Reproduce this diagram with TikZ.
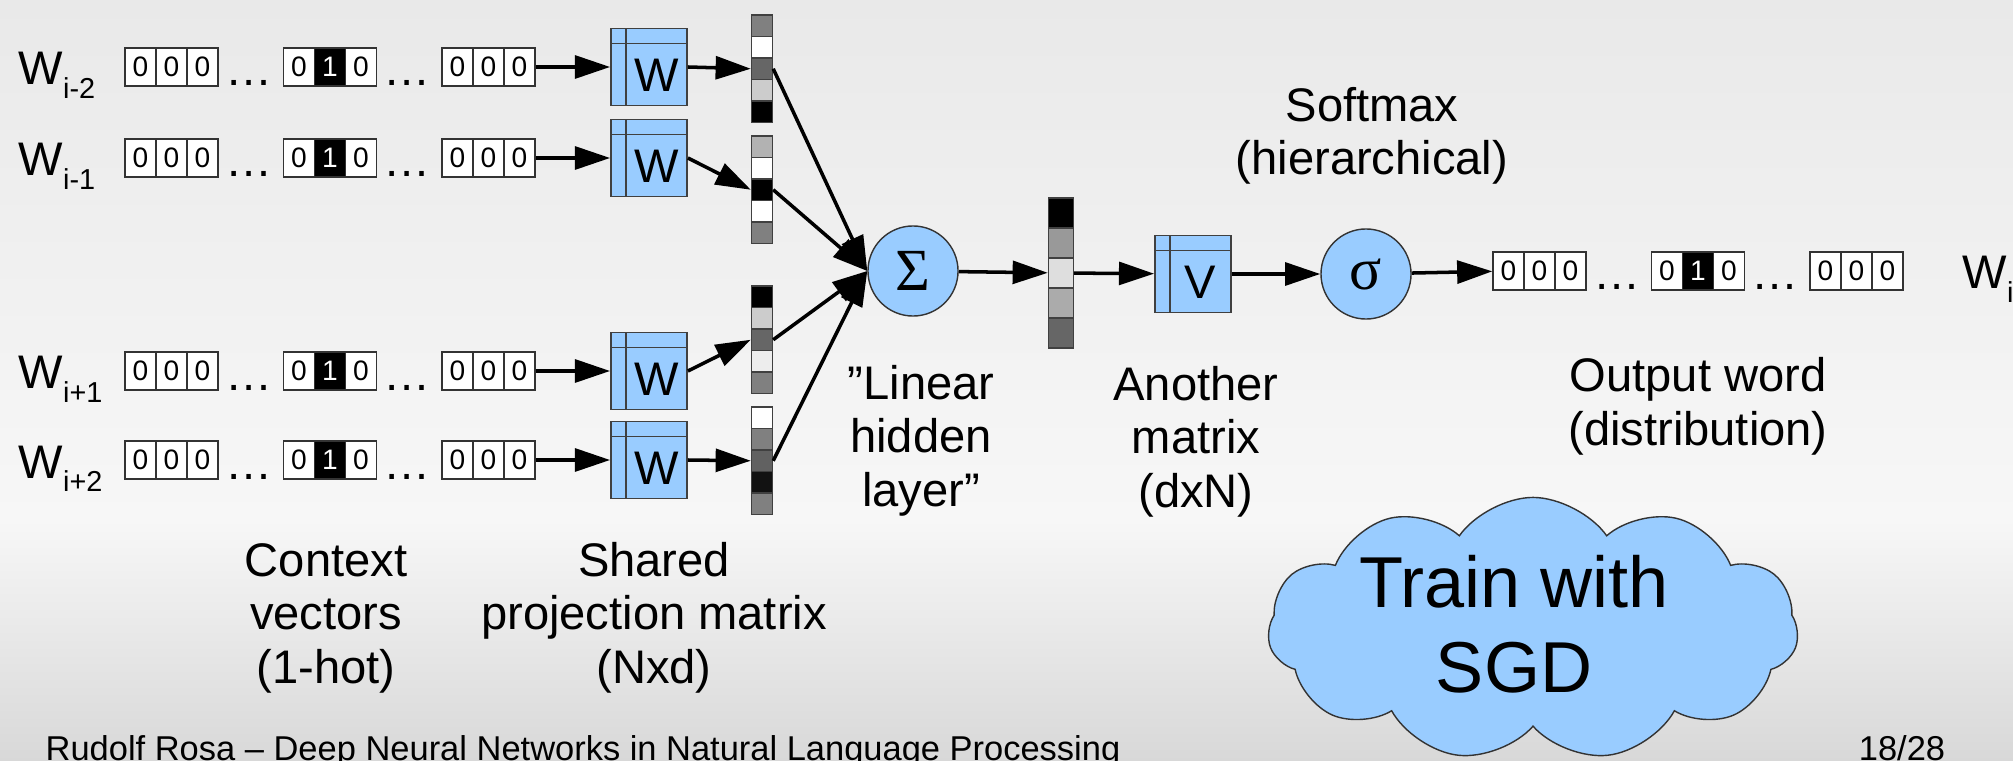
\documentclass[tikz,border=0pt]{standalone}
\usepackage{fontspec}
\setmainfont{Liberation Sans}
\newfontfamily\greekfont{Liberation Serif}
\usetikzlibrary{arrows.meta,shapes.symbols}
\definecolor{slideblue}{HTML}{99CCFF}
\definecolor{slidetop}{HTML}{E9E9E9}
\definecolor{slidemid}{HTML}{F7F7F7}
\definecolor{slidebot}{HTML}{D8D8D8}

\newcommand{\bigfont}{\fontsize{13.4}{15.2}\selectfont}
\newcommand{\cloudfont}{\fontsize{20.5}{23.9}\selectfont}

% one-hot vector: name, left x, centre y
\newcommand{\onehot}[3]{%
  \foreach \g in {0,1,2}{
    \foreach \j in {0,1,2}{
      \ifnum\g\j=11
        \node[cell,hot] (#1-\g\j) at (#2+158.5*\g+15.5+31*\j,#3) {1};
      \else
        \node[cell] (#1-\g\j) at (#2+158.5*\g+15.5+31*\j,#3) {0};
      \fi
    }
  }
  \node[dots] (#1-d1) at (#2+124,#3+19) {…};
  \node[dots] (#1-d2) at (#2+282,#3+19) {…};
}

% grey column: name, centre x, top y, cell height, width, fills
\newcommand{\greycol}[6]{%
  \foreach \tone [count=\i] in {#6}{
    \node[vcell,fill=\tone,minimum width=#5,minimum height=#4*0.01cm]
      (#1-\i) at (#2,#3+#4*\i-#4/2) {};
  }
}

\begin{document}
\begin{tikzpicture}[
    x=0.01cm,y=-0.01cm,
    flow/.style={-{Triangle[length=10pt,width=6.5pt]},line width=1pt},
    cell/.style={rectangle,draw=black!80,line width=.4pt,fill=white,inner sep=0pt,
      minimum width=.31cm,minimum height=.38cm,font=\fontsize{8}{8}\selectfont},
    hot/.style={fill=black,text=white},
    dots/.style={anchor=base,inner sep=0pt,font=\bigfont},
    vcell/.style={rectangle,draw=black!75,line width=.4pt,inner sep=0pt},
    matbox/.style={rectangle,draw=black!75,line width=.5pt,fill=slideblue,inner sep=0pt,
      minimum width=.76cm,minimum height=.77cm,text height=.49cm,text depth=0pt,
      font=\bigfont,
      path picture={
        \draw[black!75,line width=.5pt] ([xshift=.15cm]path picture bounding box.north west)
          -- ([xshift=.15cm]path picture bounding box.south west);
        \draw[black!75,line width=.5pt] ([yshift=-.15cm]path picture bounding box.north west)
          -- ([yshift=-.15cm]path picture bounding box.north east);}},
    neuron/.style={circle,draw=black!80,line width=.4pt,fill=slideblue,inner sep=0pt,
      minimum size=.9cm,font=\greekfont\fontsize{17}{17}\selectfont},
    caption/.style={anchor=base,align=center,inner sep=0pt,font=\bigfont},
    wlabel/.style={anchor=base west,inner sep=0pt,font=\bigfont}
  ]
  \useasboundingbox (0,0) rectangle (2013,761);
  \clip (0,0) rectangle (2013,761);
  \shade[top color=slidetop,bottom color=slidemid] (0,0) rectangle (2013,520);
  \shade[top color=slidemid,bottom color=slidebot] (0,520) rectangle (2013,761);

  % context words and the shared matrix
  \foreach \r/\y/\s in {1/67/i-2,2/158/i-1,3/371/i+1,4/460/i+2}{
    \node[wlabel] (lab\r) at (18,\y+18) {W\raisebox{-3.7pt}{\fontsize{8.2}{9}\selectfont\s}};
    \onehot{in\r}{125}{\y}
    \node[matbox] (w\r) at (649,\y) {\hspace*{.15cm}W};
    \draw[flow] (in\r-22.east) -- (w\r.west);
  }

  \greycol{vec1}{762}{15}{21.5}{.21cm}{black!50,white,black!60,black!20,black}
  \greycol{vec2}{762}{136}{21.5}{.21cm}{black!30,white,black,white,black!50}
  \greycol{vec3}{762}{286}{21.5}{.21cm}{black,black!20,black!60,black!7,black!50}
  \greycol{vec4}{762}{407}{21.5}{.21cm}{white,black!50,black!62,black!93,black!50}

  \node[neuron] (sum) at (913,271) {Σ};
  \foreach \v in {1,...,4}{
    \draw[flow] (w\v.east) -- (vec\v-3.west);
    \draw[flow] (vec\v-3.east) -- (sum.west);
  }

  \greycol{hid}{1061}{198}{30}{.25cm}{black,black!40,black!13,black!33,black!60}
  \draw[flow] (sum) -- (hid-3);
  \node[matbox] (vmat) at (1193,274) {\hspace*{.15cm}V};
  \draw[flow] (hid-3) -- (vmat);
  \node[neuron] (soft) at (1366,274) {σ};
  \draw[flow] (vmat) -- (soft);
  \onehot{out}{1493}{271}
  \draw[flow] (soft) -- (out-00);
  \node[wlabel] (labout) at (1962,289) {W\raisebox{-3.7pt}{\fontsize{8.2}{9}\selectfont i}};

  % captions sit on the baseline of their last line
  \node[caption] (softcap) at (1372,175) {Softmax\\(hierarchical)};
  \node[caption] (outcap) at (1698,445) {Output word\\(distribution)};
  \node[caption] (vcap) at (1196,507) {Another\\matrix\\(dxN)};
  \node[caption] (hidcap) at (921,506) {”Linear\\hidden\\layer”};
  \node[caption] (ctxcap) at (326,683) {Context\\vectors\\(1-hot)};
  \node[caption] (projcap) at (654,683) {Shared\\projection matrix\\(Nxd)};

  \node[cloud,cloud puffs=11,cloud puff arc=110,cloud ignores aspect,draw=black!80,
    line width=.4pt,fill=slideblue,minimum width=5.3cm,minimum height=2.63cm]
    (sgd) at (1533,629) {};
  \node[caption,font=\cloudfont] (sgdtext) at (1514,692) {Train with\\SGD};

  \node[anchor=base west,inner sep=0pt,font=\fontsize{9.8}{12}\selectfont]
    (footer) at (45,760) {Rudolf Rosa – Deep Neural Networks in Natural Language Processing};
  \node[anchor=base,inner sep=0pt,font=\fontsize{9.8}{12}\selectfont]
    (pageno) at (1902,760) {18/28};
\end{tikzpicture}
\end{document}
